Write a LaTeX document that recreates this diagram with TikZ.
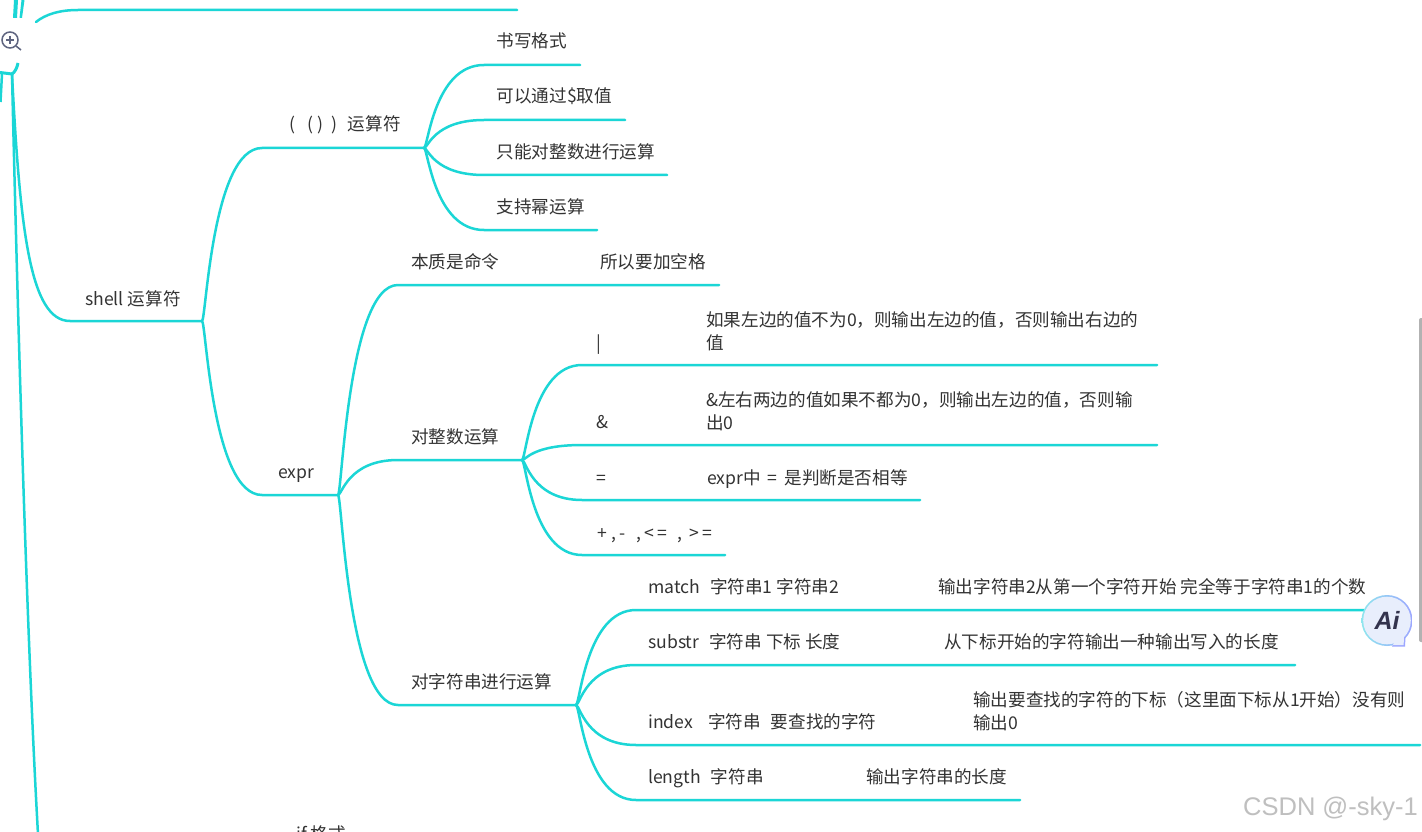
\documentclass[tikz,border=0pt]{standalone}
\usepackage{fontspec}
\setmainfont{Noto Sans CJK SC}
\usetikzlibrary{calc}
\definecolor{teal1}{HTML}{1BD6D6}
\definecolor{txt}{HTML}{333333}
\definecolor{iconc}{HTML}{5F6580}
\definecolor{badgeL}{HTML}{8FE6EE}
\definecolor{badgeR}{HTML}{9CA6FF}
\definecolor{badgeF}{HTML}{E8EEFC}
\definecolor{badgeT}{HTML}{33334D}
\newcommand{\hs}[1]{\hspace{#1pt}}
\tikzset{x=1pt,y=-1pt,
  lab/.style={anchor=base west,inner sep=0pt,text=txt,font=\fontsize{17.6}{23}\selectfont},
  multi/.style={anchor=west,inner sep=0pt,text=txt,align=left,font=\fontsize{17.6}{23}\selectfont},
  branch/.style={draw=teal1,line width=2.5pt,line cap=round,line join=round},
}
% \kid{from}{name}{x1}{y1}{x2}
\newcommand{\kid}[5]{%
  \coordinate (#2s) at (#3,#4);
  \coordinate (#2) at (#5,#4);
  \draw[branch] (#1) .. controls ($(#1)+(4,0)$) and ($(#1 |- #2s)+(10,0)$) .. (#2s) -- (#2);
}
\begin{document}
\begin{tikzpicture}
\useasboundingbox (0,0) rectangle (1422,832);
\clip (0,0) rectangle (1422,832);
\fill[white] (0,0) rectangle (1422,832);
% root
\coordinate (rootA) at (12,74);
\coordinate (rootB) at (38,834);
\coordinate (shellS) at (70,321);
\coordinate (shell) at (202,321);
\coordinate (topS) at (36,22);
\coordinate (topM) at (78,10);
\coordinate (topE) at (517,10);
\draw[branch] (rootA) .. controls (18,330) and (27,640) .. (rootB);
\draw[branch] (rootA) .. controls (20,230) and (30,321) .. (shellS) -- (shell);
\draw[branch] (topS) .. controls (46,14) and (60,10) .. (topM) -- (topE);
% fragments at the top left
\fill[teal1] (14,0) -- (18,0) -- (17,18) -- (13,18) -- cycle;
\fill[teal1] (21.5,0) -- (24.5,0) -- (22,18) -- (19.5,18) -- cycle;
\draw[draw=teal1,line width=3pt] (0,72.5) -- (rootA);
\draw[draw=teal1,line width=3pt] (18,63) .. controls (17,68) and (15,72) .. (rootA);
\draw[draw=teal1,line width=2.5pt] (2,74) -- (0.5,102);
% zoom icon
\coordinate (magn) at (10,40);
\draw[iconc,line width=1.5pt] (magn) circle (8);
\draw[iconc,line width=1.5pt] (6,40) -- (14,40) (10,36) -- (10,44);
\draw[iconc,line width=1.5pt] (16,46) -- (21,50);
% level 2
\kid{shell}{calc}{262}{148}{424}
\kid{shell}{expr}{262}{495}{338}
\node[lab] (tcalc) at (289,131) {(\hs{12}(\hs{4})\hs{8})\hs{11}运算符};
\node[lab] (texpr) at (278,478) {expr};
\node[lab] (tshell) at (85,305) {shell 运算符};
% calc children
\kid{calc}{c1}{484}{65}{580}
\kid{calc}{c2}{484}{120}{625}
\kid{calc}{c3}{484}{175}{667}
\kid{calc}{c4}{484}{230}{597}
\node[lab] (tc1) at (496.5,48) {书写格式};
\node[lab] (tc2) at (496.5,103) {可以通过\$取值};
\node[lab] (tc3) at (496.5,158) {只能对整数进行运算};
\node[lab] (tc4) at (496.5,213) {支持幂运算};
% expr children
\kid{expr}{e1}{398}{285}{719}
\kid{expr}{e2}{398}{460}{522}
\kid{expr}{e3}{398}{705}{576}
\node[lab] (te1) at (411,268) {本质是命令};
\node[lab] (te1b) at (600,268) {所以要加空格};
\node[lab] (te2) at (411,443) {对整数运算};
\node[lab] (te3) at (411,688) {对字符串进行运算};
% integer ops
\kid{e2}{i1}{582}{365}{1157}
\kid{e2}{i2}{582}{445}{1157}
\kid{e2}{i3}{582}{500}{920}
\kid{e2}{i4}{582}{555}{725}
\node[lab] (ti1) at (596,349) {|};
\node[multi] (ti1b) at (706,331) {如果左边的值不为0，则输出左边的值，否则输出右边的\\值};
\node[lab] (ti2) at (596,428) {\&};
\node[multi] (ti2b) at (706,411) {\&左右两边的值如果不都为0，则输出左边的值，否则输\\出0};
\node[lab] (ti3) at (596,484) {=};
\node[lab] (ti3b) at (707,484) {expr中\hs{3} = \hs{3}是判断是否相等};
\node[lab] (ti4) at (597,539) {+\hs{5},\hs{3}-\hs{11},\hs{3}<\hs{3}=\hs{10},\hs{7}>\hs{3}=};
% string ops
\kid{e3}{s1}{636}{610}{1365}
\kid{e3}{s2}{636}{665}{1295}
\kid{e3}{s3}{636}{745}{1420}
\kid{e3}{s4}{636}{800}{1020}
\node[lab] (ts1) at (648,593) {match\hs{10}字符串1 字符串2};
\node[lab] (ts1b) at (938,593) {输出字符串2从第一个字符开始 完全等于字符串1的个数};
\node[lab] (ts2) at (648,648) {substr\hs{10}字符串 下标 长度};
\node[lab] (ts2b) at (944,648) {从下标开始的字符输出一种输出写入的长度};
\node[lab] (ts3) at (648,728) {index\hs{15}字符串\hs{10}要查找的字符};
\node[multi] (ts3b) at (973,711) {输出要查找的字符的下标（这里面下标从1开始）没有则\\输出0};
\node[lab] (ts4) at (648,783) {length\hs{10}字符串};
\node[lab] (ts4b) at (866,783) {输出字符串的长度};
\node[lab] (tif) at (296,840) {if 格式};
% scrollbar
\fill[gray!60,rounded corners=2pt] (1419,318) rectangle (1426,642);
% AI badge
\coordinate (ai) at (1387,620.5);
\shade[left color=badgeL,right color=badgeR] (ai) circle (25.5);
\fill[badgeR] (1392,646.5) -- (1405,646.5) -- (1405.5,637) -- (1398,637) -- cycle;
\fill[badgeF] (ai) circle (23.8);
\fill[badgeF] (1393,645) -- (1403.6,645) -- (1404,637) -- (1396,637) -- cycle;
\node[inner sep=0pt,text=badgeT,font={\fontspec{Liberation Sans}\fontsize{25}{25}\selectfont\bfseries\itshape}] (tai) at (1387,620.5) {Ai};
% watermark
\node[anchor=base east,inner sep=0pt,text=gray!50,font={\fontspec{Liberation Sans}\fontsize{25.5}{25.5}\selectfont}] (wm) at (1418,815) {CSDN @-sky-1};
\end{tikzpicture}
\end{document}
